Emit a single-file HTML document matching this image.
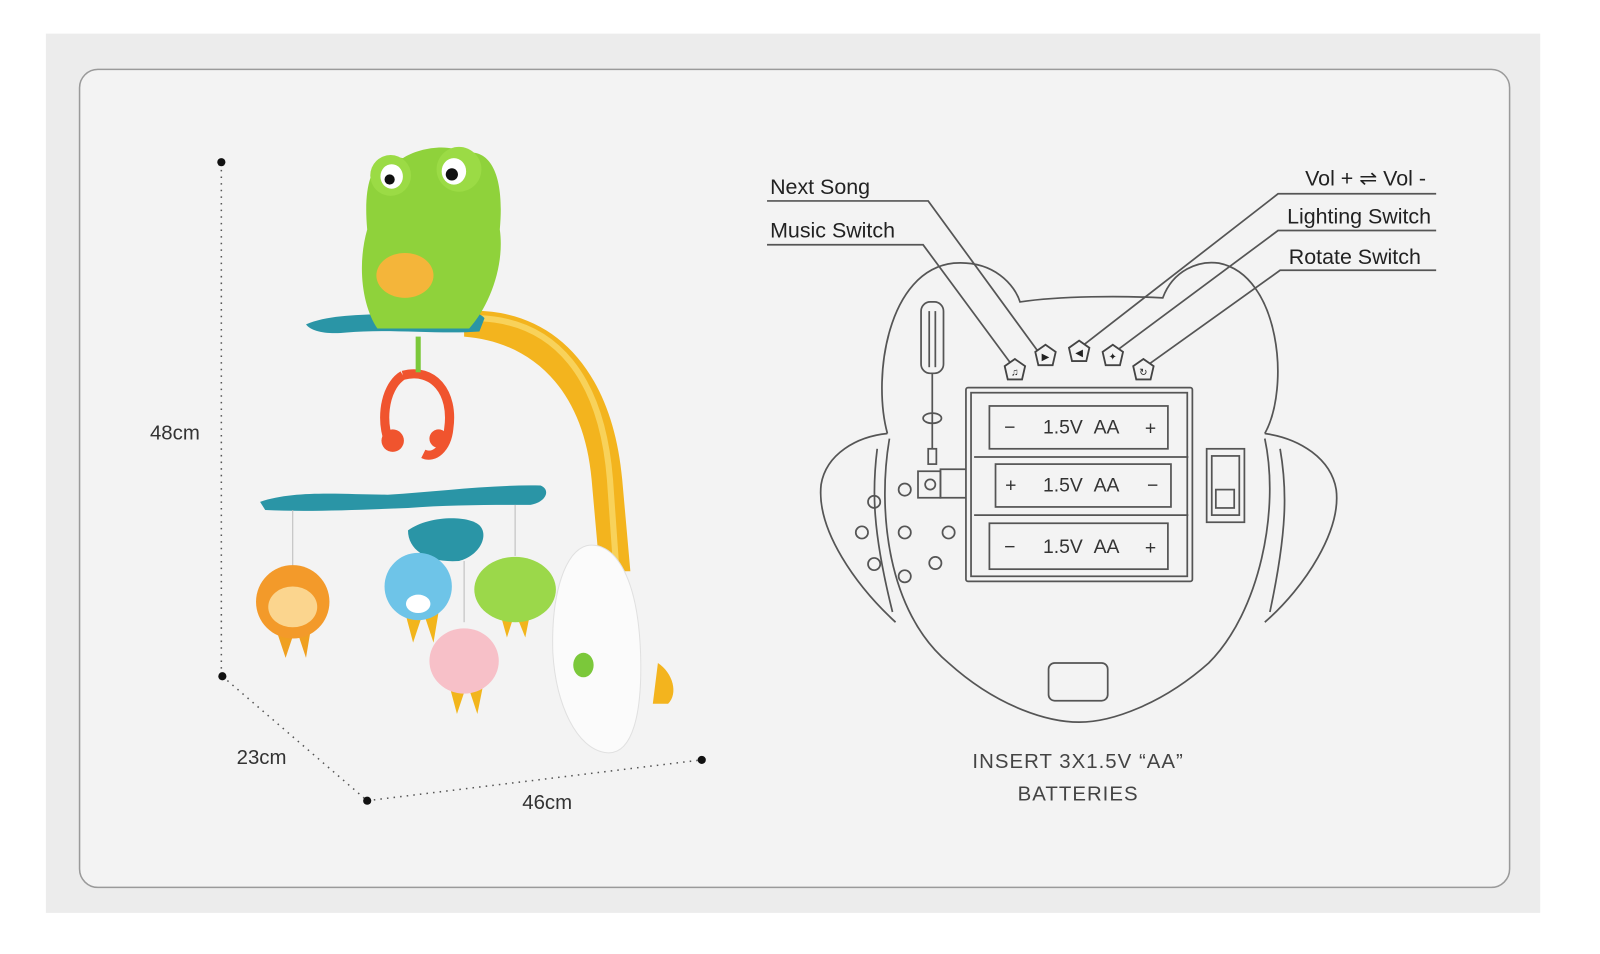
<!DOCTYPE html>
<html><head><meta charset="utf-8"><style>
html,body{margin:0;padding:0;background:#fff;}
svg{display:block;}
text{font-family:"Liberation Sans",sans-serif;}
</style></head><body>
<svg width="1600" height="954" viewBox="0 0 1600 954" xmlns="http://www.w3.org/2000/svg">
<rect x="0" y="0" width="1600" height="954" fill="#fff"/>
<g transform="scale(1.02)">
<rect x="45" y="33" width="1465" height="862" fill="#ececec"/>
<rect x="78" y="68" width="1402" height="802" rx="18" fill="#f3f3f3" stroke="#9a9a9a" stroke-width="1.5"/>

<g stroke="#555" stroke-width="1.5" stroke-dasharray="1.5 5" fill="none">
<line x1="217" y1="160" x2="217" y2="662"/>
<line x1="218" y1="663" x2="360" y2="785"/>
<line x1="360" y1="785" x2="688" y2="745"/>
</g>
<g fill="#111"><circle cx="217" cy="159" r="4"/><circle cx="218" cy="663" r="4"/><circle cx="360" cy="785" r="4"/><circle cx="688" cy="745" r="4"/></g>
<g font-size="20" fill="#333">
<text x="147" y="431">48cm</text>
<text x="232" y="749">23cm</text>
<text x="512" y="793">46cm</text>
</g>

<path d="M455 305 C540 300 600 360 610 470 L618 560 L588 560 L580 470 C572 380 520 335 455 330 Z" fill="#f3b41e"/>
<path d="M470 312 C545 315 590 370 598 470 L604 555" stroke="#f8d25a" stroke-width="6" fill="none"/>
<path d="M575 535 C600 530 625 560 628 640 C630 700 620 740 595 738 C565 735 545 690 542 640 C540 580 555 540 575 535 Z" fill="#fbfbfb" stroke="#e0e0e0"/>
<path d="M645 650 C660 660 665 680 655 690 L640 690 Z" fill="#f3b41e"/>
<ellipse cx="572" cy="652" rx="10" ry="12" fill="#7bc83a"/>
<path d="M300 318 C330 305 380 310 420 305 C450 302 470 305 475 312 L470 325 C430 328 380 322 340 326 C320 328 305 325 300 318 Z" fill="#2a95a6"/>
<path d="M360 225 C355 170 370 150 395 155 C410 145 440 140 455 150 C480 145 495 170 490 225 C495 260 480 300 460 322 L370 322 C355 300 350 260 360 225 Z" fill="#8fd23b"/>
<ellipse cx="383" cy="172" rx="20" ry="20" fill="#9bdb45"/>
<ellipse cx="450" cy="166" rx="22" ry="22" fill="#9bdb45"/>
<ellipse cx="384" cy="173" rx="11" ry="12" fill="#fff"/><circle cx="382" cy="176" r="5" fill="#111"/>
<ellipse cx="445" cy="168" rx="12" ry="13" fill="#fff"/><circle cx="443" cy="171" r="6" fill="#111"/>
<ellipse cx="397" cy="270" rx="28" ry="22" fill="#f4b53a"/>
<path d="M395 368 C375 380 372 420 385 440 M395 368 C425 360 445 385 440 420 C438 440 425 450 415 445" stroke="#f0542e" stroke-width="9" fill="none"/>
<circle cx="385" cy="432" r="11" fill="#f0542e"/>
<circle cx="430" cy="430" r="9" fill="#f0542e"/>
<line x1="410" y1="330" x2="410" y2="365" stroke="#7bc83a" stroke-width="5"/>
<path d="M255 492 C290 480 340 485 380 485 C430 482 480 475 530 476 C540 480 536 492 520 495 C480 495 440 495 400 498 C350 500 300 502 260 500 Z" fill="#2a95a6"/>
<path d="M400 520 C420 505 460 505 470 515 C480 525 470 545 450 550 C420 552 400 540 400 520 Z" fill="#2a95a6"/>
<g stroke="#bbb" stroke-width="1"><line x1="287" y1="500" x2="287" y2="560"/><line x1="505" y1="495" x2="505" y2="545"/><line x1="455" y1="550" x2="455" y2="610"/></g>
<polygon points="270,615 280,645 290,615 300,645 305,615" fill="#f0a020"/>
<circle cx="287" cy="590" r="36" fill="#f39a2a"/>
<ellipse cx="287" cy="595" rx="24" ry="20" fill="#fbd58e"/>
<polygon points="397,600 405,630 415,600 425,630 430,600" fill="#f2b51c"/>
<circle cx="410" cy="575" r="33" fill="#6ec4e8"/>
<ellipse cx="410" cy="592" rx="12" ry="9" fill="#fff"/>
<polygon points="490,600 497,625 505,600 515,625 520,600" fill="#f2b51c"/>
<ellipse cx="505" cy="578" rx="40" ry="32" fill="#9bd84a"/>
<polygon points="440,670 448,700 458,670 468,700 474,670" fill="#f2b51c"/>
<ellipse cx="455" cy="648" rx="34" ry="32" fill="#f7c0c8"/>

<g stroke="#555" stroke-width="1.7" fill="none">
<path d="M870 425 C855 370 870 265 935 258 C975 255 995 280 1000 296 C1040 290 1100 290 1140 292 C1150 265 1175 255 1195 258 C1255 270 1265 380 1240 425"/>
<path d="M872 430 C860 500 870 600 930 650 C980 695 1030 708 1058 708 C1090 708 1140 690 1185 650 C1235 600 1255 500 1240 430"/>
<path d="M870 425 C840 428 810 445 805 475 C800 520 840 575 878 610"/>
<path d="M860 440 C855 480 855 520 875 600"/>
<path d="M1240 425 C1275 430 1305 450 1310 480 C1315 520 1280 575 1240 610"/>
<path d="M1255 440 C1262 480 1262 520 1245 600"/>
<rect x="947" y="380" width="222" height="190" rx="2"/>
<rect x="952" y="385" width="212" height="180"/>
<rect x="970" y="398" width="175" height="42"/>
<rect x="976" y="455" width="172" height="42"/>
<rect x="970" y="513" width="175" height="45"/>
<line x1="955" y1="448" x2="1165" y2="448"/><line x1="955" y1="505" x2="1165" y2="505"/>
<rect x="1183" y="440" width="37" height="72"/>
<rect x="1188" y="447" width="27" height="58"/>
<rect x="1192" y="480" width="18" height="18"/>
<path d="M947 460 L922 460 L922 488 L947 488"/>
<circle cx="912" cy="475" r="5"/>
<rect x="900" y="462" width="22" height="26"/>
<circle cx="887" cy="480" r="6"/><circle cx="857" cy="492" r="6"/>
<circle cx="845" cy="522" r="6"/><circle cx="887" cy="522" r="6"/><circle cx="930" cy="522" r="6"/>
<circle cx="857" cy="553" r="6"/><circle cx="917" cy="552" r="6"/><circle cx="887" cy="565" r="6"/>
<rect x="903" y="296" width="22" height="70" rx="9"/>
<line x1="911" y1="305" x2="911" y2="360"/><line x1="917" y1="305" x2="917" y2="360"/>
<line x1="914" y1="366" x2="914" y2="440"/>
<ellipse cx="914" cy="410" rx="9" ry="5"/>
<rect x="910" y="440" width="8" height="15"/>
<rect x="1028" y="650" width="58" height="37" rx="6"/>
<polyline points="752,197 910,197 1018,345"/>
<polyline points="752,240 905,240 990,355"/>
<polyline points="1408,190 1253,190 1060,340"/>
<polyline points="1408,226 1253,226 1093,345"/>
<polyline points="1408,265 1255,265 1125,358"/>
</g>
<g fill="#f3f3f3" stroke="#444" stroke-width="1.8">
<polygon points="995,352 1005,359 1002,372 988,372 985,359"/>
<polygon points="1025,338 1035,345 1032,358 1018,358 1015,345"/>
<polygon points="1058,334 1068,341 1065,354 1051,354 1048,341"/>
<polygon points="1091,338 1101,345 1098,358 1084,358 1081,345"/>
<polygon points="1121,352 1131,359 1128,372 1114,372 1111,359"/>
</g>
<g font-size="10" fill="#222" text-anchor="middle">
<text x="995" y="368">♫</text><text x="1025" y="353">▶</text><text x="1058" y="349">◀</text><text x="1091" y="353">✦</text><text x="1121" y="368">↻</text>
</g>
<g font-size="19" fill="#333" text-anchor="middle">
<text x="990" y="425">−</text><text x="1060" y="425">1.5V&#160;&#160;AA</text><text x="1128" y="426">+</text>
<text x="991" y="482">+</text><text x="1060" y="482">1.5V&#160;&#160;AA</text><text x="1130" y="482">−</text>
<text x="990" y="542">−</text><text x="1060" y="542">1.5V&#160;&#160;AA</text><text x="1128" y="543">+</text>
</g>
<g font-size="21" fill="#222">
<text x="755" y="190">Next Song</text>
<text x="755" y="233">Music Switch</text>
<text x="1398" y="182" text-anchor="end">Vol + ⇌ Vol -</text>
<text x="1403" y="219" text-anchor="end">Lighting Switch</text>
<text x="1393" y="259" text-anchor="end">Rotate Switch</text>
</g>
<g font-size="20" fill="#444" text-anchor="middle" letter-spacing="1">
<text x="1057" y="753">INSERT 3X1.5V “AA”</text>
<text x="1057" y="785">BATTERIES</text>
</g>
</g>
</svg>
</body></html>
